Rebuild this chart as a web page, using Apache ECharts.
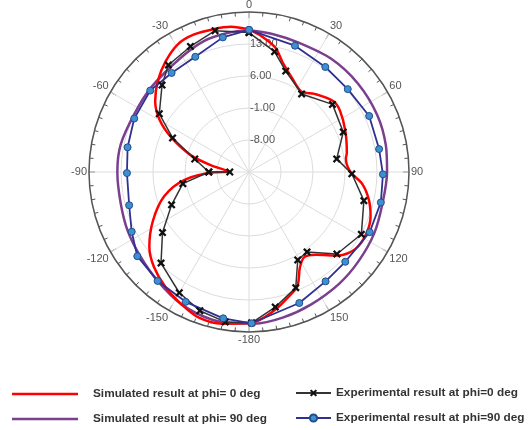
<!DOCTYPE html>
<html>
<head>
<meta charset="utf-8">
<script src="https://cdn.jsdelivr.net/npm/echarts@6/dist/echarts.min.js"></script>
<style>
  html, body { margin: 0; padding: 0; background: #fff; }
  #main { width: 530px; height: 430px; }
</style>
</head>
<body>
<div id="main"></div>
<script>
// angle in degrees (0 at top, clockwise, 0..360), value in dB
const simPhi0 = [
  [0, 16.2], [5, 14.9], [12, 12.8], [17, 10.1], [25, 7.5], [33, 6.0], [40, 7.3],
  [50, 9.1], [56, 9.0], [67, 7.9], [79, 6.8], [82, 6.4], [90, 7.2], [96, 9.9],
  [103, 11.9], [110, 13.3], [118, 14.0], [126, 13.7], [133, 11.8], [141, 8.3],
  [147, 7.2], [152, 8.7], [157, 12.1], [163, 13.8], [169, 15.6], [176, 17.5],
  [180, 18.0], [190, 18.7], [199, 18.7], [207, 17.5], [216, 16.1], [225, 14.4],
  [233, 12.3], [243, 8.6], [254, 4.3], [263, -0.8], [269.5, -7.5], [270.5, -10.8],
  [280, -6.6], [286, -1.8], [294, 3.6], [300, 7.5], [307, 10.7], [315, 13.2],
  [323, 15.3], [331, 17.0], [338, 17.4], [346, 17.2], [353, 17.0], [360, 16.2]
];
const simPhi90 = [
  [0, 16.0], [10, 15.6], [21, 15.3], [36, 15.6], [51, 15.7], [66, 15.7], [79, 15.5],
  [90, 15.2], [103, 15.0], [116, 15.5], [129, 15.9], [141, 16.4], [155, 17.0],
  [167, 17.7], [178, 18.2], [183, 18.2], [194, 18.3], [207, 17.5], [220, 16.1],
  [232, 15.1], [244, 14.5], [256, 13.9], [270, 13.8], [282, 13.7], [297, 13.1],
  [311, 13.3], [329, 14.1], [341, 15.3], [352, 15.8], [360, 16.0]
];
const expPhi0 = [
  [0, 15.5], [12, 11.9], [20, 8.5], [34, 5.6], [51, 8.5], [67, 7.4], [81.5, 4.4],
  [91, 7.5], [104, 10.9], [119, 13.1], [133, 11.3], [144, 6.6], [151, 7.0],
  [158, 12.3], [169, 15.1], [179, 18.0], [189, 18.2], [199.5, 17.2], [210, 15.5],
  [224, 12.7], [235, 8.1], [247, 3.4], [260, -0.3], [270, -6.2], [270, -10.8],
  [270, -6.2], [283.5, -2.8], [294, 3.3], [303, 8.4], [315, 11.9], [323, 14.3],
  [335, 15.3], [346.5, 16.8], [360, 15.5]
];
const expPhi90 = [
  [0, 16.1], [20, 14.4], [36, 13.4], [50, 13.2], [65, 14.0], [80, 13.9], [91, 14.3],
  [103, 14.6], [116.5, 14.5], [133, 13.8], [145, 14.2], [159, 15.7], [179, 18.1],
  [190, 17.5], [206, 16.6], [220, 16.1], [233, 15.6], [243, 13.8], [254.5, 12.2],
  [269.5, 11.7], [281.5, 12.1], [295, 12.7], [309.5, 13.0], [322, 12.5], [335, 12.8],
  [349, 15.0], [360, 16.1]
];
const angleTicks = { min: 0, max: 360, interval: 30 };
const radiusTicks = { min: -15, max: 20, interval: 7 };
const names = [
  'Simulated result at phi= 0 deg',
  'Simulated result at phi= 90 deg',
  'Experimental result at phi=0 deg',
  'Experimental result at phi=90 deg'
];

const crossPath = 'path://M2,0 L5,3 L8,0 L10,2 L7,5 L10,8 L8,10 L5,7 L2,10 L0,8 L3,5 L0,2 Z';
const toPolar = arr => arr.map(p => [p[1], p[0]]);

const chart = echarts.init(document.getElementById('main'));

const legendText = {
  fontFamily: 'Liberation Sans, Arial, sans-serif',
  fontWeight: 'bold',
  fontSize: 11.8,
  lineHeight: 14,
  color: '#333'
};

chart.setOption({
  animation: false,
  polar: { center: [249, 172], radius: 160 },
  angleAxis: {
    type: 'value',
    min: angleTicks.min,
    max: angleTicks.max,
    interval: angleTicks.interval,
    startAngle: 90,
    clockwise: true,
    axisLine: { lineStyle: { color: '#555', width: 1.5 } },
    axisTick: { inside: true, length: 6, lineStyle: { color: '#555' } },
    minorTick: { show: true, splitNumber: 6, length: 4, lineStyle: { color: '#555' } },
    axisLabel: {
      margin: 2,
      color: '#555',
      fontSize: 11,
      fontFamily: 'Liberation Sans, Arial, sans-serif',
      formatter: v => (v >= 180 ? v - 360 : v)
    },
    splitLine: { show: true, lineStyle: { color: '#dcdcdc', width: 1 } }
  },
  radiusAxis: {
    type: 'value',
    min: radiusTicks.min,
    max: radiusTicks.max,
    interval: radiusTicks.interval,
    axisLine: { show: false },
    axisTick: { show: false },
    axisLabel: {
      margin: -1,
      align: 'left',
      color: '#555',
      fontSize: 11,
      fontFamily: 'Liberation Sans, Arial, sans-serif',
      formatter: v => (v === radiusTicks.min || v === radiusTicks.max ? '' : v.toFixed(2))
    },
    splitLine: { show: true, lineStyle: { color: '#dcdcdc', width: 1 } }
  },
  legend: [
    {
      orient: 'vertical',
      left: 12,
      top: 387,
      padding: 0,
      icon: 'rect',
      itemWidth: 66,
      itemHeight: 2.5,
      itemGap: 11,
      textStyle: Object.assign({ padding: [0, 0, 0, 10] }, legendText),
      data: [names[0], names[1]]
    },
    {
      orient: 'vertical',
      left: 295,
      top: 386,
      padding: 0,
      itemWidth: 35,
      itemHeight: 9,
      itemGap: 11,
      textStyle: legendText,
      data: [names[2], names[3]]
    }
  ],
  series: [
    {
      name: names[0],
      type: 'line',
      coordinateSystem: 'polar',
      symbol: 'none',
      smooth: 0.3,
      lineStyle: { color: '#ff0000', width: 2.5 },
      itemStyle: { color: '#ff0000' },
      data: toPolar(simPhi0),
      z: 3
    },
    {
      name: names[1],
      type: 'line',
      coordinateSystem: 'polar',
      symbol: 'none',
      smooth: 0.3,
      lineStyle: { color: '#7a3f8e', width: 2.5 },
      itemStyle: { color: '#7a3f8e' },
      data: toPolar(simPhi90),
      z: 2
    },
    {
      name: names[2],
      type: 'line',
      coordinateSystem: 'polar',
      symbol: crossPath,
      symbolSize: 8,
      lineStyle: { color: '#333', width: 1.5 },
      itemStyle: { color: '#111' },
      data: toPolar(expPhi0),
      z: 4
    },
    {
      name: names[3],
      type: 'line',
      coordinateSystem: 'polar',
      symbol: 'circle',
      symbolSize: 7,
      lineStyle: { color: '#2e3192', width: 1.8 },
      itemStyle: { color: '#3d8fd1', borderColor: '#1f4e8c', borderWidth: 1 },
      data: toPolar(expPhi90),
      z: 4
    }
  ]
});
</script>
</body>
</html>
